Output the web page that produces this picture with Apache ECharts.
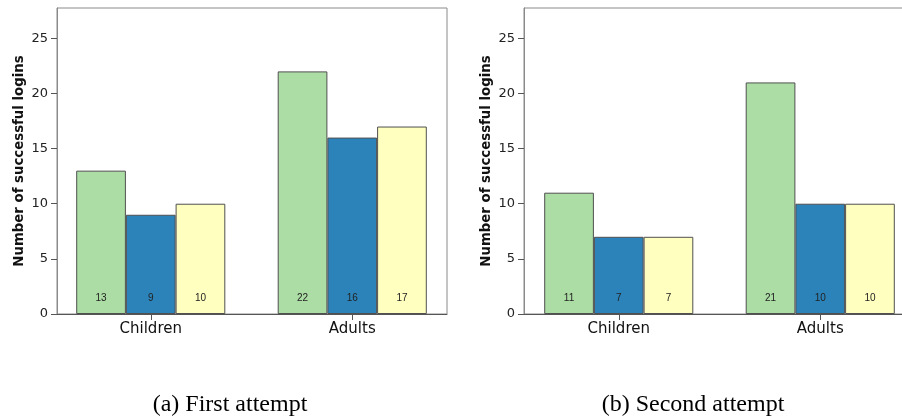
<!DOCTYPE html>
<html>
<head>
<meta charset="utf-8">
<script src="https://cdn.jsdelivr.net/npm/echarts@6/dist/echarts.min.js"></script>
<style>html,body{margin:0;padding:0;background:#fff;}#c{width:902px;height:420px;}</style>
</head>
<body>
<div id="c"></div>
<script>
const categories = ['Children', 'Adults'];
const yTicks = [0, 5, 10, 15, 20, 25];
const yMax = 27.75;
const captions = ['(a) First attempt', '(b) Second attempt'];
const firstGreen = [13, 22];
const firstBlue = [9, 16];
const firstYellow = [10, 17];
const secondGreen = [11, 21];
const secondBlue = [7, 10];
const secondYellow = [7, 10];
const colors = ['#abdda4', '#2b83ba', '#ffffbf'];
const yTitle = 'Number of successful logins';

const panels = [
  {box: 57, bars: 50, cap: 230, data: [firstGreen, firstBlue, firstYellow]},
  {box: 524, bars: 518, cap: 693, data: [secondGreen, secondBlue, secondYellow]}
];

const grid = [], xAxis = [], yAxis = [], series = [], graphic = [];
panels.forEach((p, i) => {
  const gBox = grid.length;
  grid.push({left: p.box, top: 8, width: 390, height: 306, outerBoundsMode: 'none', containLabel: false, show: true, borderColor: '#8a8a8a', borderWidth: 1, backgroundColor: 'transparent'});
  const gBar = grid.length;
  grid.push({left: p.bars, top: 8, width: 403, height: 306, outerBoundsMode: 'none', containLabel: false});
  xAxis.push({gridIndex: gBox, type: 'category', data: categories, axisLine: {show: true, lineStyle: {color: '#555', width: 1}}, axisTick: {show: false}, axisLabel: {show: false}});
  yAxis.push({gridIndex: gBox, type: 'value', min: 0, max: yMax, interval: 5,
    name: yTitle, nameLocation: 'middle', nameGap: 31,
    nameTextStyle: {fontFamily: 'DejaVu Sans', fontSize: 13.3, fontWeight: 'bold', color: '#111'},
    axisLine: {show: true, lineStyle: {color: '#8a8a8a'}},
    axisTick: {show: true, length: 6, customValues: yTicks, lineStyle: {color: '#555'}},
    axisLabel: {margin: 9, customValues: yTicks, fontFamily: 'DejaVu Sans', fontSize: 13, color: '#222'},
    splitLine: {show: false}});
  xAxis.push({gridIndex: gBar, type: 'category', data: categories,
    axisLine: {show: false}, axisTick: {show: true, alignWithLabel: true, length: 6, lineStyle: {color: '#555'}},
    axisLabel: {margin: 8, fontFamily: 'DejaVu Sans', fontSize: 15, color: '#111'}});
  yAxis.push({gridIndex: gBar, type: 'value', min: 0, max: yMax, show: false, splitLine: {show: false}});
  p.data.forEach((d, k) => {
    series.push({type: 'bar', xAxisIndex: gBar, yAxisIndex: gBar, data: d,
      barWidth: 49.7, barGap: '0%',
      itemStyle: {color: colors[k], borderColor: '#505050', borderWidth: 1},
      label: {show: true, position: 'insideBottom', distance: 11, fontFamily: 'Liberation Sans', fontSize: 10, color: '#222'}});
  });
  graphic.push({type: 'text', x: p.cap, y: 405, style: {text: captions[i], align: 'center', verticalAlign: 'middle', font: '24px "Liberation Serif"', fill: '#000'}});
});

const chart = echarts.init(document.getElementById('c'), null, {renderer: 'canvas'});
chart.setOption({animation: false, backgroundColor: '#fff', grid, xAxis, yAxis, series, graphic});
</script>
</body>
</html>
